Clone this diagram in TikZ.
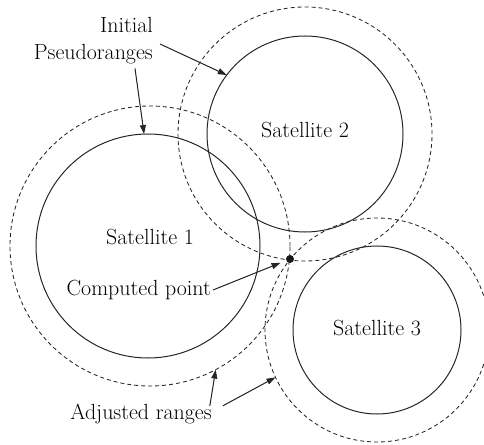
\documentclass[tikz,border=0pt]{standalone}
\usetikzlibrary{arrows.meta}
\begin{document}
\begin{tikzpicture}[x=1bp,y=-1bp,
  ring/.style={circle,draw=black!85,line width=1bp,inner sep=0pt,outer sep=0pt,minimum size=#1},
  adj/.style={ring=#1,dash pattern=on 4bp off 3bp,line width=0.85bp},
  lbl/.style={font=\fontsize{22}{27}\selectfont,text=black,inner sep=2bp},
  ptr/.style={-{Triangle[length=9bp,width=6bp]},line width=1bp,draw=black!85,fill=black!85}]
\useasboundingbox (0,0) rectangle (484,445);
\clip (0,0) rectangle (484,445);
% circles
\node[ring=224bp] (s1) at (148,246) {};
\node[adj=280bp] (d1) at (150,246) {};
\node[ring=196bp] (s2) at (305,134) {};
\node[adj=254bp] (d2) at (305,134) {};
\node[ring=168bp] (s3) at (377,330) {};
\node[adj=224bp] (d3) at (377,330) {};
\node[circle,fill=black!90,inner sep=0pt,minimum size=8bp] (cp) at (290,259) {};
% labels
\node[lbl] (t1) at (150,237) {Satellite 1};
\node[lbl] (t2) at (305,130) {Satellite 2};
\node[lbl] (t3) at (377,328) {Satellite 3};
\node[lbl,anchor=east] (tc) at (213,290) {Computed point};
\node[lbl,align=right,anchor=east] (ti) at (155,41) {Initial\\Pseudoranges};
\node[lbl] (ta) at (141,414) {Adjusted ranges};
% arrows
\draw[ptr] ([xshift=5bp,yshift=-3bp]ti.east) -- (s2.143);
\draw[ptr] ([xshift=-20bp,yshift=-2bp]ti.south east) -- (s1.92);
\draw[ptr,shorten >=6bp] (tc.east) -- (cp);
\draw[ptr] ([xshift=-4bp,yshift=-4bp]ta.north east) -- (d1.-62);
\draw[ptr] ([xshift=9bp,yshift=-4bp]ta.north east) -- (d3.205.7);
\end{tikzpicture}
\end{document}
